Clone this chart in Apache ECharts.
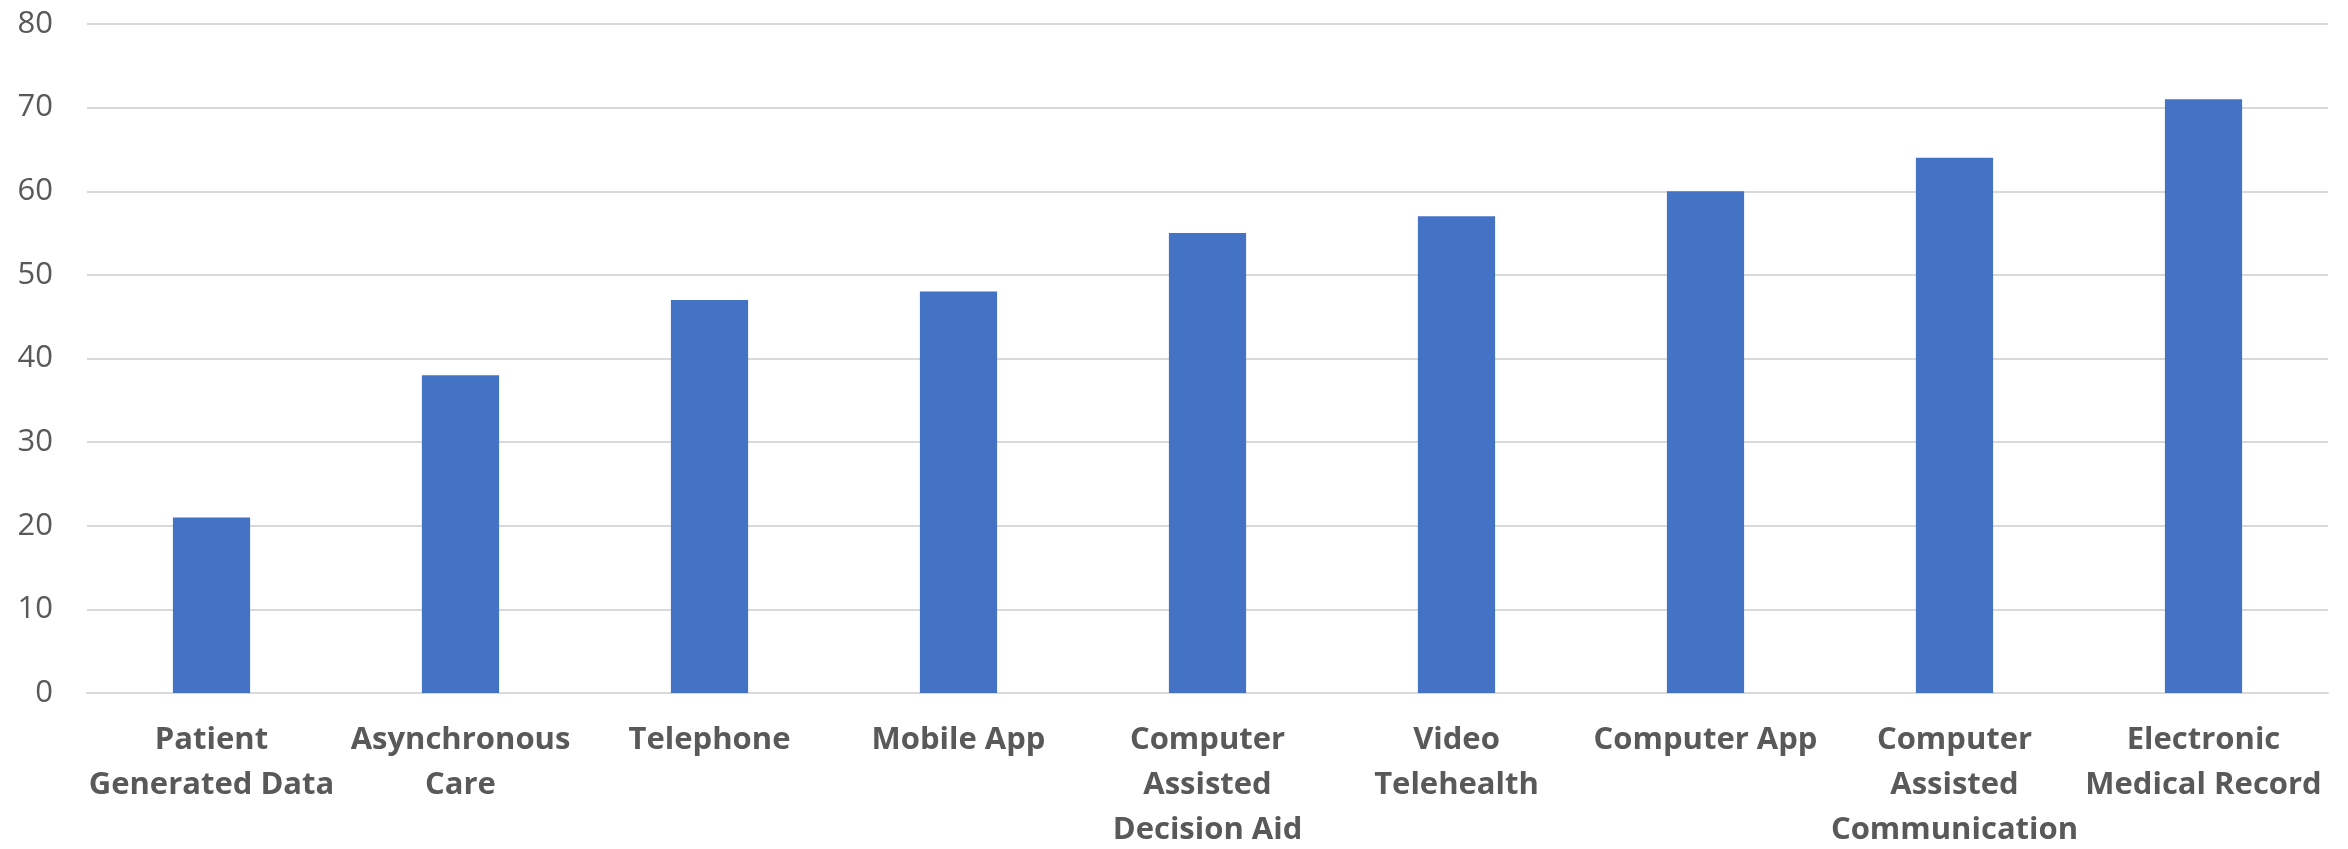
<!DOCTYPE html>
<html>
<head>
<meta charset="utf-8">
<script src="https://cdn.jsdelivr.net/npm/echarts@6/dist/echarts.min.js"></script>
<style>
  html, body { margin: 0; padding: 0; background: #ffffff; }
  #chart { width: 2348px; height: 849px; }
</style>
</head>
<body>
<div id="chart"></div>
<script>
// Technology categories (line breaks as shown under the axis)
const categories = [
  'Patient\nGenerated Data',
  'Asynchronous\nCare',
  'Telephone',
  'Mobile App',
  'Computer\nAssisted\nDecision Aid',
  'Video\nTelehealth',
  'Computer App',
  'Computer\nAssisted\nCommunication',
  'Electronic\nMedical Record'
];
const values = [21, 38, 47, 48, 55, 57, 60, 64, 71];
const yTicks = { min: 0, max: 80, interval: 10 };

const chart = echarts.init(document.getElementById('chart'), null, { renderer: 'canvas' });
chart.setOption({
  animation: false,
  backgroundColor: '#ffffff',
  grid: {
    left: 87, right: 20, top: 24, bottom: 156,
    containLabel: false,
    outerBoundsMode: 'none'
  },
  xAxis: {
    type: 'category',
    data: categories,
    axisTick: { show: false },
    axisLine: { lineStyle: { color: '#d9d9d9', width: 2 } },
    axisLabel: {
      interval: 0,
      margin: 25,
      color: '#595959',
      fontFamily: 'Open Sans',
      fontWeight: 'bold',
      fontSize: 31,
      lineHeight: 45
    }
  },
  yAxis: {
    type: 'value',
    min: yTicks.min,
    max: yTicks.max,
    interval: yTicks.interval,
    axisLine: { show: false },
    axisTick: { show: false },
    splitLine: { lineStyle: { color: '#d9d9d9', width: 2 } },
    axisLabel: {
      margin: 34,
      color: '#595959',
      fontFamily: 'Open Sans',
      fontSize: 31
    }
  },
  series: [{
    type: 'bar',
    data: values,
    barWidth: '31%',
    itemStyle: { color: '#4472c4' }
  }]
});
</script>
</body>
</html>
